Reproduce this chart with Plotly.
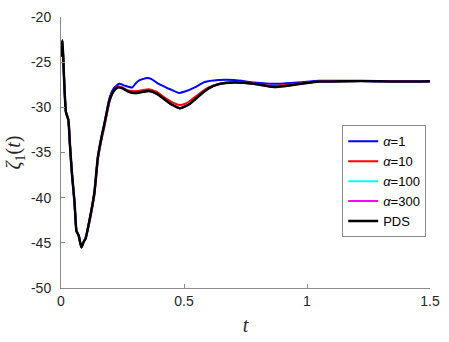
import plotly.graph_objects as go

# PDS (black) reference trajectory
t_pds = [0, 0.006, 0.012, 0.02, 0.03, 0.036, 0.045, 0.055, 0.063, 0.072, 0.083,
         0.092, 0.1, 0.11, 0.123, 0.136, 0.15, 0.167, 0.176, 0.197, 0.214, 0.23,
         0.25, 0.27, 0.29, 0.31, 0.33, 0.357, 0.39, 0.42, 0.444, 0.465, 0.484,
         0.505, 0.524, 0.55, 0.571, 0.6, 0.64, 0.705, 0.785, 0.865, 0.96, 1.05,
         1.15, 1.29, 1.4, 1.5]
z_pds = [-24.4, -22.6, -26.5, -30.5, -31.4, -34.0, -37.5, -40.5, -43.7, -44.2, -45.5,
         -44.9, -44.5, -43.3, -41.5, -39.4, -35.5, -33.0, -31.9, -29.2, -28.2, -27.8,
         -27.9, -28.2, -28.4, -28.4, -28.3, -28.2, -28.5, -29.1, -29.6, -29.9, -30.1,
         -29.9, -29.6, -29.0, -28.5, -27.9, -27.45, -27.25, -27.4, -27.75, -27.45, -27.15,
         -27.1, -27.1, -27.15, -27.1]

# alpha = 10 (red)
t_a10 = [0, 0.006, 0.012, 0.02, 0.03, 0.036, 0.045, 0.055, 0.063, 0.072, 0.083,
         0.092, 0.1, 0.11, 0.123, 0.136, 0.15, 0.167, 0.176, 0.197, 0.214, 0.23,
         0.25, 0.27, 0.29, 0.31, 0.33, 0.357, 0.39, 0.42, 0.444, 0.465, 0.484,
         0.505, 0.524, 0.55, 0.571, 0.6, 0.64, 0.705, 0.785, 0.865, 0.96, 1.05,
         1.15, 1.29, 1.4, 1.5]
z_a10 = [-24.4, -22.6, -26.5, -30.5, -31.4, -34.0, -37.5, -40.5, -43.7, -44.2, -45.5,
         -44.9, -44.5, -43.4, -41.7, -39.6, -35.8, -33.3, -32.2, -29.4, -28.2, -27.7,
         -27.8, -28.1, -28.2, -28.2, -28.1, -28.0, -28.3, -28.9, -29.3, -29.6, -29.75,
         -29.6, -29.3, -28.75, -28.3, -27.8, -27.4, -27.2, -27.35, -27.65, -27.4, -27.15,
         -27.1, -27.1, -27.15, -27.1]

# alpha = 100 / 300 sit under the PDS curve
t_a100 = t_pds
z_a100 = z_pds
t_a300 = t_pds
z_a300 = z_pds

# alpha = 1 (blue)
t_a1 = [0, 0.006, 0.012, 0.02, 0.03, 0.036, 0.045, 0.055, 0.063, 0.072, 0.083,
        0.092, 0.1, 0.11, 0.123, 0.136, 0.15, 0.167, 0.176, 0.197, 0.214, 0.237,
        0.26, 0.29, 0.305, 0.32, 0.35, 0.37, 0.39, 0.42, 0.444, 0.48, 0.51, 0.544,
        0.584, 0.64, 0.705, 0.785, 0.865, 0.96, 1.05, 1.15, 1.29, 1.4, 1.5]
z_a1 = [-24.4, -22.6, -26.5, -30.5, -31.4, -34.0, -37.5, -40.5, -43.7, -44.2, -45.5,
        -44.9, -44.5, -43.3, -41.5, -39.4, -35.5, -33.0, -31.9, -29.0, -27.9, -27.4,
        -27.6, -27.8, -27.3, -27.0, -26.75, -26.9, -27.3, -27.7, -28.0, -28.4, -28.2, -27.8,
        -27.2, -26.97, -26.97, -27.25, -27.4, -27.25, -27.07, -27.05, -27.1, -27.12, -27.1]

x_ticks = [0, 0.5, 1, 1.5]
x_labels = ["0", "0.5", "1", "1.5"]
y_ticks = [-50, -45, -40, -35, -30, -25, -20]
y_labels = ["-50", "-45", "-40", "-35", "-30", "-25", "-20"]

series = [
    ("<i>α</i>=1", t_a1, z_a1, "#0000FF", 2),
    ("<i>α</i>=10", t_a10, z_a10, "#FF0000", 2),
    ("<i>α</i>=100", t_a100, z_a100, "#00FFFF", 2),
    ("<i>α</i>=300", t_a300, z_a300, "#FF00FF", 2),
    ("PDS", t_pds, z_pds, "#000000", 2.5),
]

fig = go.Figure()
for name, t, z, color, width in series:
    fig.add_trace(go.Scatter(
        x=t, y=z, mode="lines", name=name,
        line=dict(color=color, width=width, shape="spline", smoothing=0.5),
    ))

axis_style = dict(
    showline=True, linecolor="#8a8a8a", linewidth=1,
    ticks="inside", ticklen=4, tickcolor="#8a8a8a",
    showgrid=False, zeroline=False, mirror=False,
    tickfont=dict(family="Liberation Sans, Arial", size=14, color="#262626"),
)

fig.update_layout(
    width=449, height=342,
    paper_bgcolor="white", plot_bgcolor="white",
    margin=dict(l=61, r=14, t=9, b=53),
    showlegend=True,
    xaxis=dict(
        range=[0, 1.5], tickvals=x_ticks, ticktext=x_labels,
        title=dict(text="<i>t</i>", standoff=10,
                   font=dict(family="Liberation Serif, serif", size=20, color="#262626")),
        **axis_style,
    ),
    yaxis=dict(
        range=[-50, -20], tickvals=y_ticks, ticktext=y_labels,
        ticklabelstandoff=6,
        title=dict(text="<i>ζ</i><sub>1</sub>(<i>t</i>)", standoff=4,
                   font=dict(family="Liberation Serif, serif", size=20, color="#262626")),
        **axis_style,
    ),
    legend=dict(
        x=0.762, y=0.6, xanchor="left", yanchor="top",
        bgcolor="white", bordercolor="#8a8a8a", borderwidth=1,
        font=dict(family="Liberation Sans, Arial", size=13, color="black"),
        tracegroupgap=0, itemwidth=30,
    ),
)

fig.write_html("out.html", config={"displayModeBar": False},
               post_script="document.body.style.margin='0';")
